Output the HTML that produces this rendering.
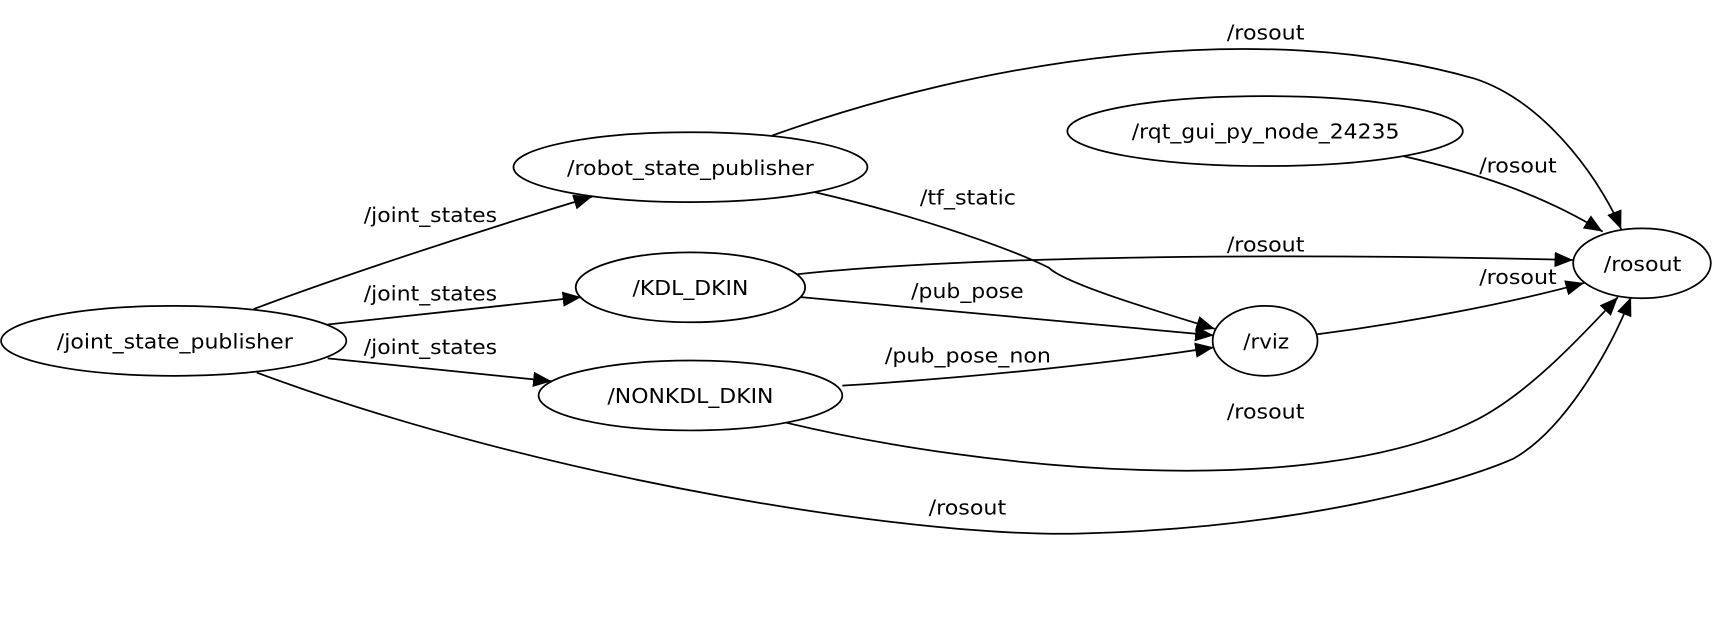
<!DOCTYPE html>
<html><head><meta charset="utf-8"><style>
html,body{margin:0;padding:0;background:#fff;width:1713px;height:619px;overflow:hidden}
svg{display:block}
text{font-family:"DejaVu Sans","Liberation Sans",sans-serif;font-size:19px;fill:#000}
</style></head><body>
<svg width="1713" height="619" viewBox="0 0 1568 566.6" preserveAspectRatio="none">
<defs><marker id="a" markerUnits="userSpaceOnUse" markerWidth="18" markerHeight="14" refX="17" refY="7" orient="auto"><path d="M0,0 L17,7 L0,14 Z" fill="#000"/></marker></defs>
<g fill="none" stroke="#000" stroke-width="1.6">
<ellipse cx="159" cy="312" rx="158" ry="32"/>
<ellipse cx="632" cy="153" rx="162" ry="32"/>
<ellipse cx="632" cy="263" rx="105" ry="32"/>
<ellipse cx="632" cy="362" rx="139" ry="32"/>
<ellipse cx="1158" cy="120" rx="181" ry="32"/>
<ellipse cx="1158" cy="312" rx="48" ry="32"/>
<ellipse cx="1503" cy="241" rx="63" ry="32"/>
<g marker-end="url(#a)">
<path d="M232,283 C300,257 430,214 542,180"/>
<path d="M300,297 L532,272"/>
<path d="M300,328 L505,349"/>
<path d="M235,341 C500,440 850,495 1000,488 C1200,482 1340,440 1385,420 C1430,395 1472,325 1493,272"/>
<path d="M707,124 C900,55 1150,15 1350,72 C1420,95 1470,175 1484,210"/>
<path d="M746,176 C850,200 930,230 960,245 C975,260 1060,285 1112,301"/>
<path d="M730,251 C900,233 1200,232 1440,238"/>
<path d="M733,272 L1111,307"/>
<path d="M771,353 C900,345 1020,332 1111,318"/>
<path d="M720,387 C900,430 1200,460 1350,385 C1400,360 1450,305 1481,272"/>
<path d="M1285,143 C1350,158 1410,177 1467,212"/>
<path d="M1206,306 C1290,295 1380,278 1450,259"/>
</g></g>
<g text-anchor="start">
<text x="52" y="319" textLength="216" lengthAdjust="spacingAndGlyphs">/joint_state_publisher</text>
<text x="519" y="160" textLength="226" lengthAdjust="spacingAndGlyphs">/robot_state_publisher</text>
<text x="579" y="270" textLength="106" lengthAdjust="spacingAndGlyphs">/KDL_DKIN</text>
<text x="556" y="369" textLength="152" lengthAdjust="spacingAndGlyphs">/NONKDL_DKIN</text>
<text x="1036" y="127" textLength="245" lengthAdjust="spacingAndGlyphs">/rqt_gui_py_node_24235</text>
<text x="1138" y="319" textLength="42" lengthAdjust="spacingAndGlyphs">/rviz</text>
<text x="1468" y="248" textLength="71" lengthAdjust="spacingAndGlyphs">/rosout</text>
<text x="333" y="203" textLength="122" lengthAdjust="spacingAndGlyphs">/joint_states</text>
<text x="333" y="275" textLength="122" lengthAdjust="spacingAndGlyphs">/joint_states</text>
<text x="333" y="324" textLength="122" lengthAdjust="spacingAndGlyphs">/joint_states</text>
<text x="1123" y="36" textLength="71" lengthAdjust="spacingAndGlyphs">/rosout</text>
<text x="1354" y="158" textLength="71" lengthAdjust="spacingAndGlyphs">/rosout</text>
<text x="1123" y="230" textLength="71" lengthAdjust="spacingAndGlyphs">/rosout</text>
<text x="1354" y="260" textLength="71" lengthAdjust="spacingAndGlyphs">/rosout</text>
<text x="1123" y="383" textLength="71" lengthAdjust="spacingAndGlyphs">/rosout</text>
<text x="850" y="471" textLength="71" lengthAdjust="spacingAndGlyphs">/rosout</text>
<text x="842" y="187" textLength="88" lengthAdjust="spacingAndGlyphs">/tf_static</text>
<text x="834" y="273" textLength="103" lengthAdjust="spacingAndGlyphs">/pub_pose</text>
<text x="810" y="332" textLength="152" lengthAdjust="spacingAndGlyphs">/pub_pose_non</text>
</g>
</svg>
</body></html>
